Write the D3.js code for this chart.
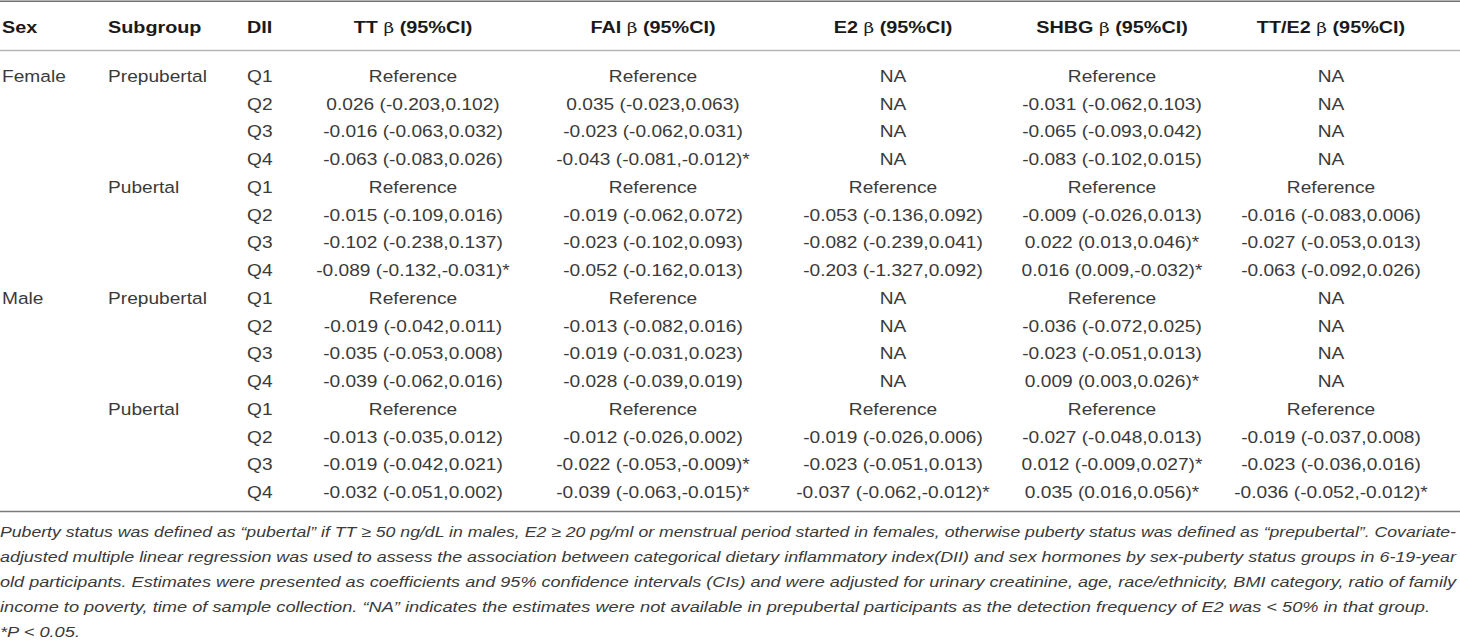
<!DOCTYPE html>
<html>
<head>
<meta charset="utf-8">
<script src="https://cdn.jsdelivr.net/npm/d3@7"></script>
<style>
  body { margin: 0; background: #fff; }
  svg { display: block; }
</style>
</head>
<body>
<div id="table"></div>
<script>
const columnHeaders = ["Sex", "Subgroup", "DII", "TT", "FAI", "E2", "SHBG", "TT/E2"];
const sexLabels = ["Female", "", "", "", "", "", "", "", "Male", "", "", "", "", "", "", ""];
const subgroupLabels = ["Prepubertal", "", "", "", "Pubertal", "", "", "",
                        "Prepubertal", "", "", "", "Pubertal", "", "", ""];
const diiLabels = ["Q1", "Q2", "Q3", "Q4", "Q1", "Q2", "Q3", "Q4",
                   "Q1", "Q2", "Q3", "Q4", "Q1", "Q2", "Q3", "Q4"];

const ttValues = [
  "Reference", "0.026 (-0.203,0.102)", "-0.016 (-0.063,0.032)", "-0.063 (-0.083,0.026)",
  "Reference", "-0.015 (-0.109,0.016)", "-0.102 (-0.238,0.137)", "-0.089 (-0.132,-0.031)*",
  "Reference", "-0.019 (-0.042,0.011)", "-0.035 (-0.053,0.008)", "-0.039 (-0.062,0.016)",
  "Reference", "-0.013 (-0.035,0.012)", "-0.019 (-0.042,0.021)", "-0.032 (-0.051,0.002)"
];
const faiValues = [
  "Reference", "0.035 (-0.023,0.063)", "-0.023 (-0.062,0.031)", "-0.043 (-0.081,-0.012)*",
  "Reference", "-0.019 (-0.062,0.072)", "-0.023 (-0.102,0.093)", "-0.052 (-0.162,0.013)",
  "Reference", "-0.013 (-0.082,0.016)", "-0.019 (-0.031,0.023)", "-0.028 (-0.039,0.019)",
  "Reference", "-0.012 (-0.026,0.002)", "-0.022 (-0.053,-0.009)*", "-0.039 (-0.063,-0.015)*"
];
const e2Values = [
  "NA", "NA", "NA", "NA",
  "Reference", "-0.053 (-0.136,0.092)", "-0.082 (-0.239,0.041)", "-0.203 (-1.327,0.092)",
  "NA", "NA", "NA", "NA",
  "Reference", "-0.019 (-0.026,0.006)", "-0.023 (-0.051,0.013)", "-0.037 (-0.062,-0.012)*"
];
const shbgValues = [
  "Reference", "-0.031 (-0.062,0.103)", "-0.065 (-0.093,0.042)", "-0.083 (-0.102,0.015)",
  "Reference", "-0.009 (-0.026,0.013)", "0.022 (0.013,0.046)*", "0.016 (0.009,-0.032)*",
  "Reference", "-0.036 (-0.072,0.025)", "-0.023 (-0.051,0.013)", "0.009 (0.003,0.026)*",
  "Reference", "-0.027 (-0.048,0.013)", "0.012 (-0.009,0.027)*", "0.035 (0.016,0.056)*"
];
const ttE2Values = [
  "NA", "NA", "NA", "NA",
  "Reference", "-0.016 (-0.083,0.006)", "-0.027 (-0.053,0.013)", "-0.063 (-0.092,0.026)",
  "NA", "NA", "NA", "NA",
  "Reference", "-0.019 (-0.037,0.008)", "-0.023 (-0.036,0.016)", "-0.036 (-0.052,-0.012)*"
];

const footnoteLines = [
  "Puberty status was defined as \u201cpubertal\u201d if TT \u2265 50 ng/dL in males, E2 \u2265 20 pg/ml or menstrual period started in females, otherwise puberty status was defined as \u201cprepubertal\u201d. Covariate-",
  "adjusted multiple linear regression was used to assess the association between categorical dietary inflammatory index(DII) and sex hormones by sex-puberty status groups in 6-19-year",
  "old participants. Estimates were presented as coefficients and 95% confidence intervals (CIs) and were adjusted for urinary creatinine, age, race/ethnicity, BMI category, ratio of family",
  "income to poverty, time of sample collection. \u201cNA\u201d indicates the estimates were not available in prepubertal participants as the detection frequency of E2 was < 50% in that group.",
  "*P < 0.05."
];

// ---- layout ----
const width = 1460, height = 643;
const font = "'Liberation Sans', Arial, Helvetica, sans-serif";
const bodyStretch = 1.16, headStretch = 1.2;

const columns = [sexLabels, subgroupLabels, diiLabels, ttValues, faiValues, e2Values, shbgValues, ttE2Values];

const x = d3.scaleOrdinal()
  .domain(columnHeaders)
  .range([2, 108, 247, 413, 653, 893, 1112, 1331]);
const anchor = d3.scaleOrdinal()
  .domain(columnHeaders)
  .range(["start", "start", "start", "middle", "middle", "middle", "middle", "middle"]);

const y = d3.scaleLinear()
  .domain([0, diiLabels.length - 1])
  .range([82, 498]);

const yFoot = d3.scaleLinear()
  .domain([0, footnoteLines.length - 1])
  .range([537, 637]);
const footLength = [1456, 1456, 1456, 1430, 80];

const svg = d3.select("#table").append("svg")
  .attr("width", width)
  .attr("height", height)
  .style("font-family", font);

// rules
const rules = [
  {y: 1.2, color: "#6f6f6f"},
  {y: 50.5, color: "#b5b5b5"},
  {y: 511.5, color: "#7a7a7a"}
];
svg.selectAll("line.rule")
  .data(rules)
  .join("line")
  .attr("class", "rule")
  .attr("x1", 0).attr("x2", width)
  .attr("y1", d => d.y).attr("y2", d => d.y)
  .attr("stroke", d => d.color)
  .attr("stroke-width", 1.6);

// header
const head = svg.selectAll("text.head")
  .data(columnHeaders)
  .join("text")
  .attr("class", "head")
  .attr("transform", d => `translate(${x(d)},33) scale(${headStretch},1)`)
  .attr("text-anchor", d => anchor(d))
  .attr("font-size", 16.5)
  .attr("font-weight", "bold")
  .attr("fill", "#1a1a1a");

head.each(function(d, i) {
  const t = d3.select(this);
  if (i < 3) {
    t.text(d);
  } else {
    t.append("tspan").text(d + " ");
    t.append("tspan").attr("font-weight", "normal").attr("font-family", "'DejaVu Serif', serif")
      .attr("font-size", 15.5).text("\u03b2");
    t.append("tspan").text(" (95%CI)");
  }
});

// body cells
const cells = [];
columns.forEach((col, c) => {
  col.forEach((v, r) => {
    if (v !== "") cells.push({col: columnHeaders[c], row: r, text: v});
  });
});

svg.selectAll("text.cell")
  .data(cells)
  .join("text")
  .attr("class", "cell")
  .attr("transform", d => `translate(${x(d.col)},${y(d.row)}) scale(${bodyStretch},1)`)
  .attr("text-anchor", d => anchor(d.col))
  .attr("font-size", 16.5)
  .attr("fill", "#3a3a3a")
  .text(d => d.text);

// footnote
svg.selectAll("text.foot")
  .data(footnoteLines)
  .join("text")
  .attr("class", "foot")
  .attr("x", 0)
  .attr("y", (d, i) => yFoot(i))
  .attr("font-size", 15)
  .attr("font-style", "italic")
  .attr("fill", "#3a3a3a")
  .attr("textLength", (d, i) => footLength[i])
  .attr("lengthAdjust", "spacingAndGlyphs")
  .text(d => d);
</script>
</body>
</html>
